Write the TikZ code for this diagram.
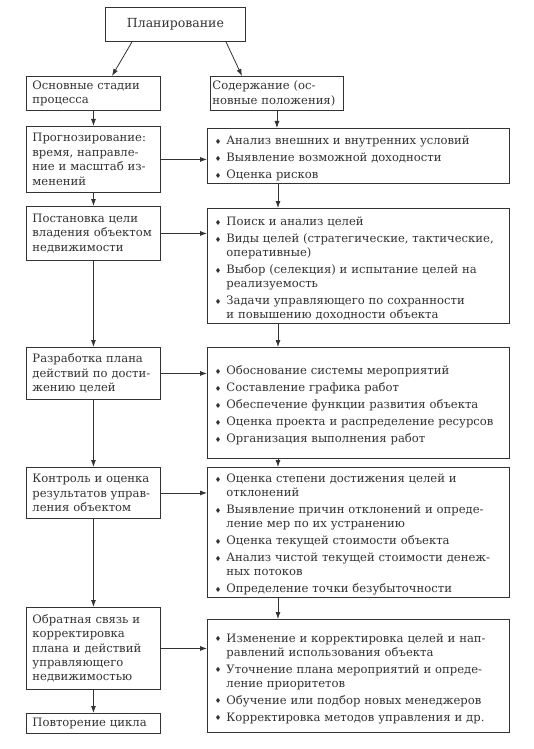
\documentclass[tikz,border=0pt]{standalone}
\usepackage{fontspec}
\usepackage{amssymb}
\setmainfont{DejaVu Serif}
\usetikzlibrary{arrows.meta,calc}
\definecolor{ink}{HTML}{333333}
\newcommand{\bul}{\makebox[11pt][l]{\raisebox{0.25ex}{$\scriptscriptstyle\blacklozenge$}}}
\newcommand{\itm}{\par\hangindent=11pt\hangafter=1\noindent\bul}
\newcommand{\gap}{\par\vspace{3pt}}
\begin{document}
\begin{tikzpicture}[x=1pt,y=-1pt,
  font=\fontsize{11.6}{14.4}\selectfont,
  every node/.style={text=ink},
  box/.style={draw=ink,line width=0.9pt,anchor=north west,align=left,inner ysep=1.5pt},
  lbox/.style={box,minimum width=134pt,text width=122pt,inner xsep=6pt},
  rbox/.style={box,minimum width=302pt,text width=286pt,inner xsep=8pt,font=\fontsize{11.6}{14}\selectfont},
  arr/.style={draw=ink,line width=0.8pt,-{Latex[length=7pt,width=5pt]}}]
\useasboundingbox (0,0) rectangle (533,749);
\fill[white] (0,0) rectangle (533,749);
% top
\node[box,minimum width=140pt,minimum height=34pt,align=center,font=\fontsize{12.5}{15}\selectfont] (plan) at (105,7) {Планирование};
\node[lbox,minimum height=34pt] (osn) at (26,76) {Основные стадии\\процесса};
\node[box,minimum width=133pt,minimum height=34pt,text width=129pt,inner xsep=2pt] (sod) at (210,76) {Содержание (ос-\\новные положения)};
% left column
\node[lbox,minimum height=66pt] (p1) at (26,126) {Прогнозирование:\\время, направле-\\ние и масштаб из-\\менений};
\node[lbox,minimum height=54pt] (p2) at (26,206) {Постановка цели\\владения объектом\\недвижимости};
\node[lbox,minimum height=52pt] (p3) at (26,347) {Разработка плана\\действий по дости-\\жению целей};
\node[lbox,minimum height=51pt] (p4) at (26,467) {Контроль и оценка\\результатов управ-\\ления объектом};
\node[lbox,minimum height=82pt] (p5) at (26,607) {Обратная связь и\\корректировка\\плана и действий\\управляющего\\недвижимостью};
\node[lbox,minimum height=20pt,inner ysep=1pt] (p6) at (26,713) {Повторение цикла};
% right column
\node[rbox,minimum height=55pt] (r1) at (207,128) {\itm Анализ внешних и внутренних условий\gap\itm Выявление возможной доходности\gap\itm Оценка рисков\par};
\node[rbox,minimum height=115pt] (r2) at (207,208) {\itm Поиск и анализ целей\gap\itm Виды целей (стратегические, тактические,\newline оперативные)\gap\itm Выбор (селекция) и испытание целей на\newline реализуемость\gap\itm Задачи управляющего по сохранности\newline и повышению доходности объекта\par};
\node[rbox,minimum height=111pt] (r3) at (207,347) {\itm Обоснование системы мероприятий\gap\itm Составление графика работ\gap\itm Обеспечение функции развития объекта\gap\itm Оценка проекта и распределение ресурсов\gap\itm Организация выполнения работ\par};
\node[rbox,minimum height=127pt] (r4) at (207,467) {\itm Оценка степени достижения целей и\newline отклонений\gap\itm Выявление причин отклонений и опреде-\newline ление мер по их устранению\gap\itm Оценка текущей стоимости объекта\gap\itm Анализ чистой текущей стоимости денеж-\newline ных потоков\gap\itm Определение точки безубыточности\par};
\node[rbox,minimum height=113pt] (r5) at (207,619) {\itm Изменение и корректировка целей и нап-\newline равлений использования объекта\gap\itm Уточнение плана мероприятий и опреде-\newline ление приоритетов\gap\itm Обучение или подбор новых менеджеров\gap\itm Корректировка методов управления и др.\par};
% connectors
\draw[arr] ([xshift=27pt]plan.south west) -- ([xshift=86pt]osn.north west);
\draw[arr] ([xshift=121pt]plan.south west) -- ([xshift=32pt]sod.north west);
\foreach \a/\b in {osn/p1,p1/p2,p2/p3,p3/p4,p4/p5,p5/p6}
  \draw[arr] (\a.south) -- (\b.north);
\draw[arr] (sod.south) -- (sod.south |- r1.north);
\foreach \a/\b in {r1/r2,r2/r3,r3/r4,r4/r5}
  \draw[arr] ([xshift=71pt]\a.south west) -- ([xshift=71pt]\b.north west);
\foreach \a/\b in {p1/r1,p2/r2,p3/r3,p4/r4,p5/r5}
  \draw[arr] (\a.east) -- (\a.east -| \b.west);
\end{tikzpicture}
\end{document}
